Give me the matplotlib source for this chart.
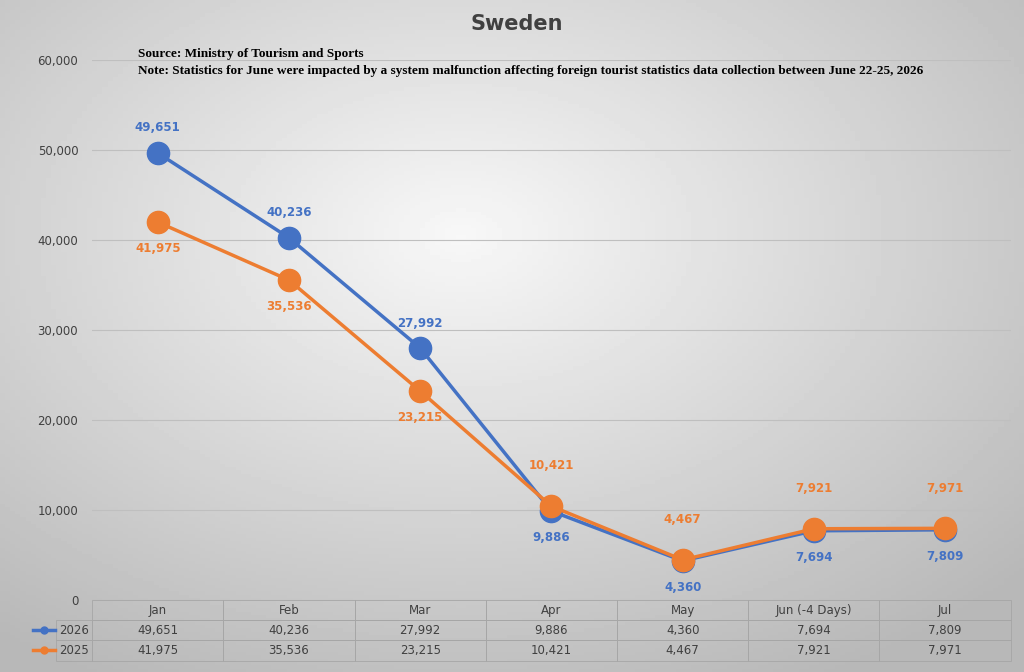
import numpy as np
import matplotlib.pyplot as plt
from matplotlib.lines import Line2D

months = ['Jan', 'Feb', 'Mar', 'Apr', 'May', 'Jun (-4 Days)', 'Jul']
v2026 = [49651, 40236, 27992, 9886, 4360, 7694, 7809]
v2025 = [41975, 35536, 23215, 10421, 4467, 7921, 7971]
blue = '#4472C4'
orange = '#ED7D31'

fig = plt.figure(figsize=(10.24, 6.72), dpi=100)

# background gradient
bg = fig.add_axes([0, 0, 1, 1], zorder=0)
yy, xx = np.mgrid[0:1:200j, 0:1:200j]
r = np.sqrt((xx - 0.45) ** 2 + (yy - 0.35) ** 2)
g = 0.97 - 0.25 * np.clip(r / 0.75, 0, 1)
bg.imshow(g, cmap='gray', vmin=0, vmax=1, extent=[0, 1, 0, 1], aspect='auto', origin='upper')
bg.axis('off')

ax = fig.add_axes([0.09, 0.107, 0.897, 0.804], zorder=1)
ax.patch.set_alpha(0)
x = np.arange(len(months))
ax.plot(x, v2026, color=blue, lw=2.5, marker='o', ms=16, zorder=3)
ax.plot(x, v2025, color=orange, lw=2.5, marker='o', ms=16, zorder=4)

def lab(i, v, col, dy):
    ax.annotate(f'{v:,}', (i, v), xytext=(0, dy), textcoords='offset points', ha='center',
                va='center', color=col, fontsize=8.5, fontweight='bold')

for i in range(len(x)):
    a, b = v2026[i], v2025[i]
    if a >= b:
        lab(i, a, blue, 18)
        lab(i, b, orange, -19)
    else:
        lab(i, b, orange, 29)
        lab(i, a, blue, -19)

ax.set_xlim(-0.5, len(x) - 0.5)
ax.set_ylim(0, 60000)
ax.set_yticks(range(0, 60001, 10000))
ax.set_yticklabels([f'{v:,}' for v in range(0, 60001, 10000)], fontsize=8.5, color='#404040')
ax.yaxis.grid(True, color='#bfbfbf', lw=0.8)
ax.set_axisbelow(True)
ax.set_xticks([])
ax.tick_params(axis='y', length=0, pad=10)
for s in ax.spines.values():
    s.set_visible(False)

# data table
tbl = ax.table(cellText=[[f'{v:,}' for v in v2026], [f'{v:,}' for v in v2025]],
               rowLabels=['2026', '2025'], colLabels=months,
               cellLoc='center', bbox=[0, -0.112, 1, 0.112])
tbl.auto_set_font_size(False)
tbl.set_fontsize(8.5)
for (rr, c), cell in tbl.get_celld().items():
    cell.set_edgecolor('#a6a6a6')
    cell.set_facecolor('none')
    cell.set_linewidth(0.6)
    cell.get_text().set_color('#404040')
    if c == -1:
        cell.get_text().set_ha('right')
for i, col in enumerate([blue, orange]):
    yk = 0.0625 - i * 0.0295
    fig.add_artist(Line2D([0.032, 0.054], [yk, yk], color=col, lw=2.5, transform=fig.transFigure))
    fig.add_artist(Line2D([0.043], [yk], color=col, marker='o', ms=5, transform=fig.transFigure))

fig.text(0.505, 0.955, 'Sweden', ha='center', fontsize=15, fontweight='bold', color='#404040')
fig.text(0.135, 0.915, 'Source: Ministry of Tourism and Sports', fontsize=9.5,
         fontweight='bold', family='Liberation Serif')
fig.text(0.135, 0.89, 'Note: Statistics for June were impacted by a system malfunction affecting foreign tourist statistics data collection between June 22-25, 2026',
         fontsize=9.5, fontweight='bold', family='Liberation Serif')

fig.savefig('out.png', dpi=100)
